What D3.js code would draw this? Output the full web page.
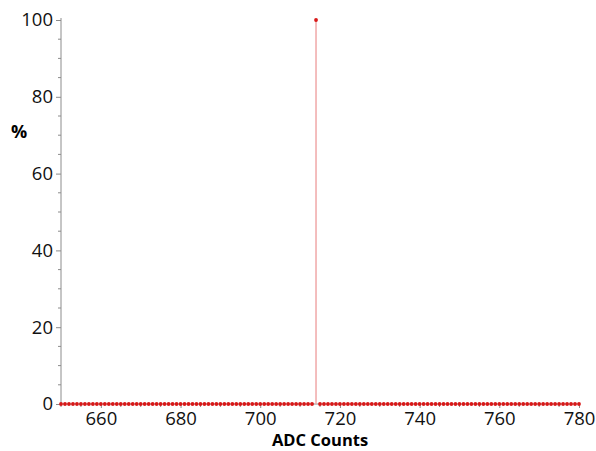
<!DOCTYPE html>
<html>
<head>
<meta charset="utf-8">
<script src="https://cdn.jsdelivr.net/npm/d3@7"></script>
<style>
  body { margin: 0; background: #fff; }
  svg { display: block; }
  .tick text { font-family: "Open Sans", sans-serif; font-size: 18.5px; fill: #111; }
</style>
</head>
<body>
<svg width="596" height="451"></svg>
<script>
// ADC channel values 650..780, percentage of counts
const adcStart = 650;
const percent = [
  0, 0, 0, 0, 0, 0, 0, 0, 0, 0,
  0, 0, 0, 0, 0, 0, 0, 0, 0, 0,
  0, 0, 0, 0, 0, 0, 0, 0, 0, 0,
  0, 0, 0, 0, 0, 0, 0, 0, 0, 0,
  0, 0, 0, 0, 0, 0, 0, 0, 0, 0,
  0, 0, 0, 0, 0, 0, 0, 0, 0, 0,
  0, 0, 0, 0, 100, 0, 0, 0, 0, 0,
  0, 0, 0, 0, 0, 0, 0, 0, 0, 0,
  0, 0, 0, 0, 0, 0, 0, 0, 0, 0,
  0, 0, 0, 0, 0, 0, 0, 0, 0, 0,
  0, 0, 0, 0, 0, 0, 0, 0, 0, 0,
  0, 0, 0, 0, 0, 0, 0, 0, 0, 0,
  0, 0, 0, 0, 0, 0, 0, 0, 0, 0,
  0
];
const xTicks = [660, 680, 700, 720, 740, 760, 780];
const yTicks = [0, 20, 40, 60, 80, 100];

const data = percent.map((v, i) => ({ adc: adcStart + i, pct: v }));

const svg = d3.select("svg");
const mLeft = 61, mRight = 579, mTop = 20, mBottom = 404;

const x = d3.scaleLinear().domain([650, 780]).range([mLeft, mRight]);
const y = d3.scaleLinear().domain([0, 100]).range([mBottom, mTop]);

const axisColor = "#8c8c8c";

// y axis with minor ticks every 5
const yAxis = svg.append("g").attr("transform", `translate(${mLeft},0)`);
yAxis.append("line")
  .attr("x1", 0).attr("x2", 0)
  .attr("y1", y(0)).attr("y2", y(100) - 2)
  .attr("stroke", axisColor);
yAxis.selectAll(".minor")
  .data(d3.range(0, 101, 5).filter(d => d % 20 !== 0))
  .join("line")
  .attr("x1", -3).attr("x2", 0)
  .attr("y1", d => y(d)).attr("y2", d => y(d))
  .attr("stroke", axisColor);
yAxis.call(d3.axisLeft(y).tickValues(yTicks).tickSize(5).tickPadding(3))
  .call(g => g.select(".domain").remove())
  .call(g => g.selectAll(".tick line").attr("stroke", axisColor));

// x axis
const xAxis = svg.append("g").attr("transform", `translate(0,${mBottom})`);
xAxis.append("line")
  .attr("x1", mLeft).attr("x2", mRight)
  .attr("stroke", axisColor);
xAxis.selectAll(".minor")
  .data(d3.range(650, 781, 5).filter(d => d % 20 !== 0))
  .join("line")
  .attr("x1", d => x(d)).attr("x2", d => x(d))
  .attr("y1", 0).attr("y2", 3)
  .attr("stroke", axisColor);
xAxis.call(d3.axisBottom(x).tickValues(xTicks).tickSize(4).tickPadding(4))
  .call(g => g.select(".domain").remove())
  .call(g => g.selectAll(".tick line").attr("stroke", axisColor));

// stems for non-zero values
svg.append("g").selectAll("line")
  .data(data.filter(d => d.pct > 0))
  .join("line")
  .attr("x1", d => x(d.adc)).attr("x2", d => x(d.adc))
  .attr("y1", y(0)).attr("y2", d => y(d.pct))
  .attr("stroke", "#f0a8a8")
  .attr("stroke-width", 1.5);

// points
svg.append("g").selectAll("circle")
  .data(data)
  .join("circle")
  .attr("cx", d => x(d.adc))
  .attr("cy", d => y(d.pct))
  .attr("r", 1.9)
  .attr("fill", "#d81818");

// axis titles
svg.append("text")
  .attr("x", 320).attr("y", 446)
  .attr("text-anchor", "middle")
  .attr("font-family", "Open Sans, sans-serif")
  .attr("font-weight", "bold")
  .attr("font-size", 16.5)
  .text("ADC Counts");

svg.append("text")
  .attr("x", 19).attr("y", 138)
  .attr("text-anchor", "middle")
  .attr("font-family", "Open Sans, sans-serif")
  .attr("font-weight", "bold")
  .attr("font-size", 18)
  .text("%");
</script>
</body>
</html>
